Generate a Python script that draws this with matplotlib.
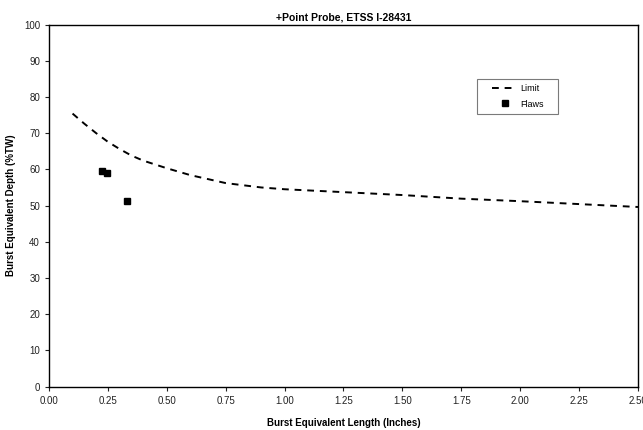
import matplotlib
matplotlib.use("Agg")
import matplotlib.pyplot as plt

limit_x = [0.1, 0.15, 0.2, 0.25, 0.3, 0.35, 0.4, 0.5, 0.6, 0.75, 0.9, 1.0, 1.25, 1.5, 1.75, 2.0, 2.25, 2.5]
limit_y = [75.4, 72.6, 70.0, 67.6, 65.6, 63.8, 62.4, 60.3, 58.4, 56.2, 55.0, 54.5, 53.7, 52.9, 51.9, 51.2, 50.4, 49.6]
flaw_x = [0.224, 0.245, 0.332]
flaw_y = [59.6, 59.1, 51.2]
xticks = [0.0, 0.25, 0.5, 0.75, 1.0, 1.25, 1.5, 1.75, 2.0, 2.25, 2.5]
yticks = list(range(0, 101, 10))

plt.rcParams['font.family'] = ['Liberation Sans', 'DejaVu Sans']

fig = plt.figure(figsize=(6.43, 4.30), dpi=100)
ax = fig.add_axes([0.0762, 0.101, 0.916, 0.842])

ax.plot(limit_x, limit_y, linestyle=(0, (3.5, 3)), color='black', linewidth=1.4, label='Limit')
ax.plot(flaw_x, flaw_y, linestyle='none', marker='s', markersize=5, color='black', label='Flaws')

ax.set_xlim(0, 2.5)
ax.set_ylim(0, 100)
ax.set_xticks(xticks)
ax.set_xticklabels([f"{v:.2f}" for v in xticks])
ax.set_yticks(yticks)
ax.tick_params(labelsize=7, length=3, width=0.8, direction='out', colors='#222222')
for s in ax.spines.values():
    s.set_linewidth(1.0)
    s.set_color('black')

ax.set_title('+Point Probe, ETSS I-28431', fontsize=7.5, fontweight='bold', pad=3)
ax.set_xlabel('Burst Equivalent Length (Inches)', fontsize=7, fontweight='bold', labelpad=9)
ax.set_ylabel('Burst Equivalent Depth (%TW)', fontsize=7, fontweight='bold', labelpad=6)

leg = ax.legend(loc='upper left', bbox_to_anchor=(0.727, 0.85), fontsize=6.5,
                frameon=True, fancybox=False, edgecolor='0.35', handlelength=2.8,
                handletextpad=0.3, borderpad=0.6, labelspacing=0.7, borderaxespad=0)
leg.get_frame().set_linewidth(0.8)
leg._legend_box.set_width(70)

fig.savefig('out.png', dpi=100)
